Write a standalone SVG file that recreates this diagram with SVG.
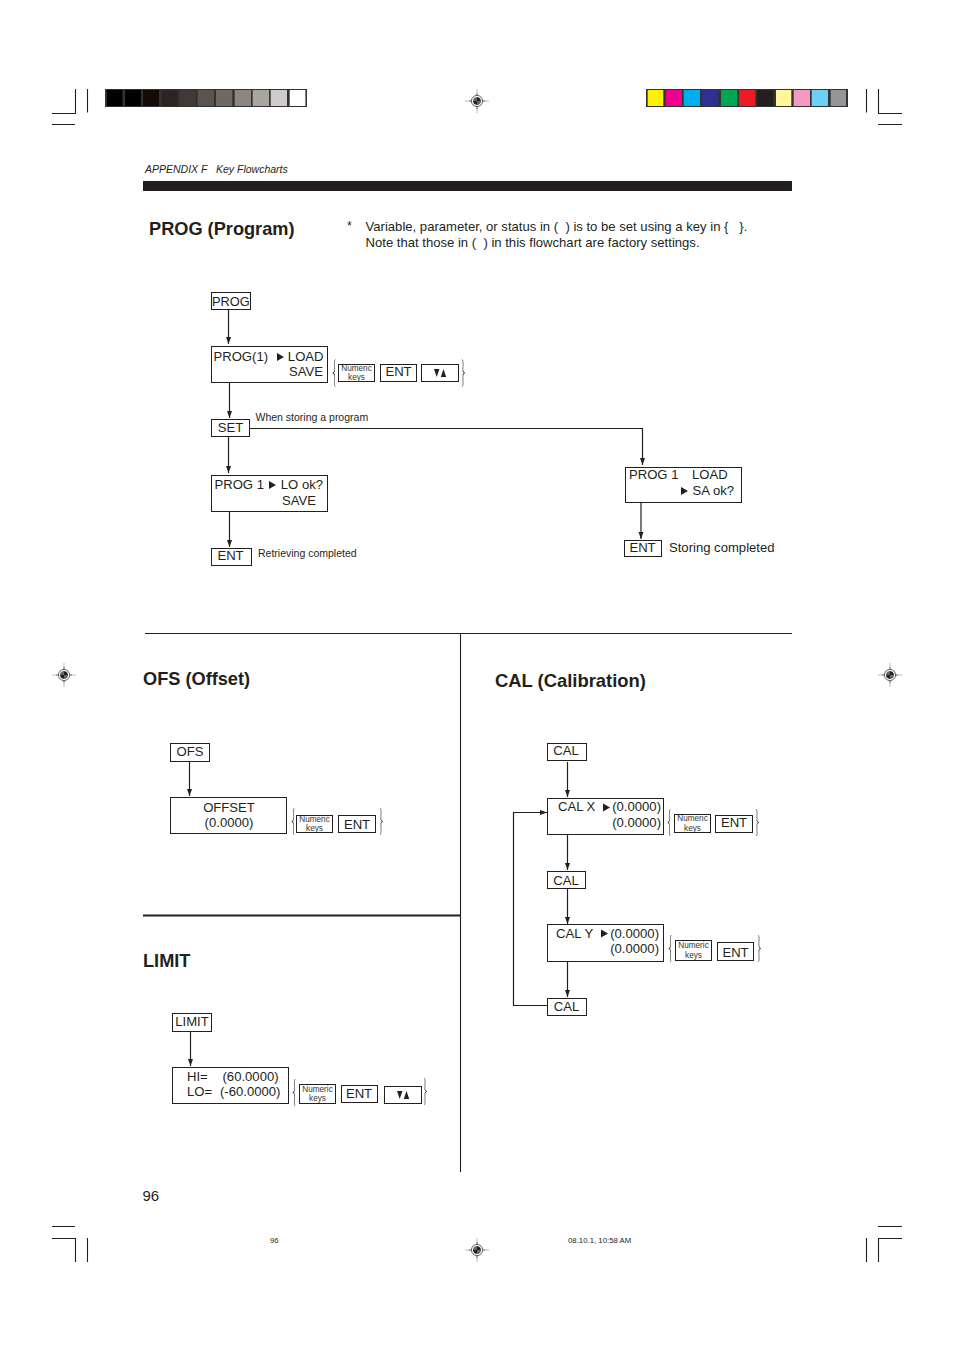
<svg xmlns="http://www.w3.org/2000/svg" xmlns:xlink="http://www.w3.org/1999/xlink" width="954" height="1351" viewBox="0 0 954 1351">
<style>
text{font-family:"Liberation Sans",Arial,sans-serif;fill:#231f20;font-size:13.100px;white-space:pre}
.h{font-weight:bold;font-size:18.2px}
.s{font-size:10.500px}
.k{font-size:8.200px;text-anchor:middle;fill:#333}
.m{text-anchor:middle}
.e{text-anchor:end}
.b{fill:#fff;stroke:#231f20;stroke-width:1}
.l{fill:none;stroke:#231f20;stroke-width:1.1}
.c{fill:none;stroke:#231f20;stroke-width:1.2}
.br{fill:none;stroke:#777;stroke-width:1}
.tip{fill:none;stroke:#333;stroke-width:1}
</style>
<defs>
<marker id="a" markerUnits="userSpaceOnUse" markerWidth="8" markerHeight="8" refX="7" refY="4" orient="auto"><path d="M0 1.500L7 4L0 6.500z" fill="#231f20"/></marker>
<g id="reg"><path d="M-12 0H12M0-12V12" stroke="#bbb" stroke-width="1" fill="none"/><path d="M-8 0H8M0-8V8" stroke="#444" stroke-width=".7" fill="none"/><circle r="5.600" fill="#fff" stroke="#555" stroke-width=".9"/><circle r="3.600" fill="#fff" stroke="#231f20" stroke-width=".7"/><path d="M0 0V-3.600A3.600 3.600 0 0 1 3.600 0ZM0 0V3.600A3.600 3.600 0 0 1 -3.600 0Z" fill="#231f20"/><path d="M0 0H-3.600A3.600 3.600 0 0 1 0-3.600Z M0 0H3.600A3.600 3.600 0 0 1 0 3.600Z" fill="#666"/></g>
<path id="tr" d="M0-4L7 0L0 4z" fill="#231f20"/>
<path id="ud" d="M0 0H5.400L2.700 8zM6.800 8L9.500 0L12.200 8z" fill="#231f20"/>
<g id="lb"><path d="M3.500 0C1.500 1 3 8 2.500 11.500M2.500 15.500C3 19 1.500 26 3.500 27" class="br"/><path d="M2.500 11.500Q2.500 13 .8 13.500Q2.500 14 2.500 15.500" class="tip"/></g>
<g id="rb"><path d="M0 0C2 1 .5 8 1 11.500M1 15.500C.5 19 2 26 0 27" class="br"/><path d="M1 11.500Q1 13 2.700 13.500Q1 14 1 15.500" class="tip"/></g>
</defs>

<g id="printmarks">
<rect x="105" y="89" width="202" height="18" fill="#333"/>
<rect x="107" y="90" width="15.500" height="16" fill="#000"/>
<rect x="125" y="90" width="16" height="16" fill="#000"/>
<rect x="143" y="90" width="16" height="16" fill="#140a06"/>
<rect x="161.700" y="90" width="16" height="16" fill="#2a2522"/>
<rect x="179.700" y="90" width="16" height="16" fill="#3f3a37"/>
<rect x="197.700" y="90" width="16.300" height="16" fill="#5a5350"/>
<rect x="216" y="90" width="16.300" height="16" fill="#6f6865"/>
<rect x="234.700" y="90" width="16.300" height="16" fill="#8c8683"/>
<rect x="252.700" y="90" width="16.300" height="16" fill="#a9a5a1"/>
<rect x="270.700" y="90" width="16.300" height="16" fill="#cfcbca"/>
<rect x="289.700" y="90" width="15.700" height="16" fill="#fff"/>
<rect x="646" y="89" width="202" height="18" fill="#333"/>
<rect x="647.700" y="90" width="15.600" height="16" fill="#fff200"/>
<rect x="665.700" y="90" width="16.300" height="16" fill="#ec008c"/>
<rect x="683.700" y="90" width="16.300" height="16" fill="#00aeef"/>
<rect x="702" y="90" width="16.300" height="16" fill="#2e3192"/>
<rect x="721" y="90" width="16.300" height="16" fill="#00a651"/>
<rect x="739" y="90" width="16.300" height="16" fill="#ed1c24"/>
<rect x="757" y="90" width="16.300" height="16" fill="#231f20"/>
<rect x="776" y="90" width="15.300" height="16" fill="#fff799"/>
<rect x="793.700" y="90" width="16.300" height="16" fill="#f49ac1"/>
<rect x="811.700" y="90" width="16.300" height="16" fill="#6dcff6"/>
<rect x="830.700" y="90" width="15.300" height="16" fill="#939598"/>
<path class="l" d="M52 113.500H75.500V89M87.500 89V112.500M52 124.500H75M866.500 89V112.500M878.500 89V113.500H902M878 124.500H902M52 1226.500H75M52 1238.500H75.500V1262M87.500 1238V1262M866.500 1238V1262M902 1238.500H878.500V1262M878 1226.500H902"/>
<use xlink:href="#reg" href="#reg" x="477" y="101"/>
<use xlink:href="#reg" href="#reg" x="64" y="675"/>
<use xlink:href="#reg" href="#reg" x="890" y="675"/>
<use xlink:href="#reg" href="#reg" x="477" y="1250"/>
</g>

<g id="page">
<text x="145" y="173" font-style="italic" style="font-size:10.500px">APPENDIX F   Key Flowcharts</text>
<rect x="143" y="181" width="649" height="10" fill="#231f20"/>
<text class="h" x="149" y="235">PROG (Program)</text>
<text x="347" y="230" style="font-size:12.500px">*</text>
<text x="365.500" y="231">Variable, parameter, or status in (  ) is to be set using a key in {   }.</text>
<text x="365.500" y="247">Note that those in (  ) in this flowchart are factory settings.</text>
<path class="l" d="M145 633.500H792M460.500 633V1172"/>
<path d="M143 915.500H460" stroke="#231f20" stroke-width="2" fill="none"/>
<text class="h" x="143" y="685">OFS (Offset)</text>
<text class="h" x="495" y="687" style="font-size:18.400px">CAL (Calibration)</text>
<text class="h" x="143" y="967">LIMIT</text>
<text x="142.500" y="1201" style="font-size:15px">96</text>
<text x="270" y="1243" style="font-size:7.500px">96</text>
<text x="568" y="1243" style="font-size:7.800px">08.10.1, 10:58 AM</text>
<text class="s" x="255.500" y="421">When storing a program</text>
<text class="s" x="258" y="557">Retrieving completed</text>
<text x="669" y="552">Storing completed</text>
</g>

<g id="connectors">
<path class="c" marker-end="url(#a)" d="M228.500 310V344"/>
<path class="c" marker-end="url(#a)" d="M229.500 383V418"/>
<path class="c" marker-end="url(#a)" d="M228.500 437V473"/>
<path class="c" marker-end="url(#a)" d="M229.500 512V547"/>
<path class="c" marker-end="url(#a)" d="M250 428.500H642.500V465"/>
<path class="c" marker-end="url(#a)" d="M641 503V539"/>
<path class="c" marker-end="url(#a)" d="M189.500 762V796"/>
<path class="c" marker-end="url(#a)" d="M190.500 1032V1066"/>
<path class="c" marker-end="url(#a)" d="M567.500 762V797"/>
<path class="c" marker-end="url(#a)" d="M567.500 835V870"/>
<path class="c" marker-end="url(#a)" d="M567.500 889V924"/>
<path class="c" marker-end="url(#a)" d="M567.500 962V997"/>
<path class="c" marker-end="url(#a)" d="M547 1005.500H513.500V812.500H547"/>
</g>

<g id="n-prog"><rect class="b" x="211.500" y="292.500" width="39" height="17"/><text x="212" y="305.500" style="font-size:12.800px">PROG</text></g>
<g id="n-prog1"><rect class="b" x="211.500" y="346.500" width="116" height="36"/><text x="213.500" y="361">PROG(1)</text><use xlink:href="#tr" href="#tr" x="277" y="357"/><text class="e" x="323.500" y="361">LOAD</text><text class="e" x="323" y="376">SAVE</text></g>
<g id="n-prog1-keys"><use xlink:href="#lb" href="#lb" x="332" y="359.500"/><rect class="b" x="338.500" y="364.500" width="36" height="17"/><text class="k" x="356.500" y="371">Numeric</text><text class="k" x="356.500" y="380">keys</text><rect class="b" x="380.500" y="364.500" width="36" height="17"/><text class="m" x="398.500" y="376">ENT</text><rect class="b" x="421.500" y="364.500" width="37" height="17"/><use xlink:href="#ud" href="#ud" x="434" y="369"/><use xlink:href="#rb" href="#rb" x="462" y="359.500"/></g>
<g id="n-set"><rect class="b" x="211.500" y="419.500" width="38" height="17"/><text class="m" x="230.500" y="432">SET</text></g>
<g id="n-lo"><rect class="b" x="211.500" y="475.500" width="116" height="36"/><text x="214.500" y="489">PROG 1</text><use xlink:href="#tr" href="#tr" x="269" y="485"/><text class="e" x="323" y="489">LO ok?</text><text class="e" x="316" y="505">SAVE</text></g>
<g id="n-ent1"><rect class="b" x="211.500" y="548.500" width="40" height="17"/><text class="m" x="230.500" y="560">ENT</text></g>
<g id="n-sa"><rect class="b" x="625.500" y="467.500" width="116" height="35"/><text x="629" y="479">PROG 1</text><text x="692" y="479">LOAD</text><use xlink:href="#tr" href="#tr" x="681" y="491"/><text class="e" x="734" y="495">SA ok?</text></g>
<g id="n-ent2"><rect class="b" x="624.500" y="540.500" width="37" height="16"/><text class="m" x="642.500" y="552">ENT</text></g>

<g id="n-ofs"><rect class="b" x="170.500" y="743.500" width="39" height="18"/><text class="m" x="190" y="756">OFS</text></g>
<g id="n-offset"><rect class="b" x="170.500" y="797.500" width="116" height="36"/><text class="m" x="229" y="812">OFFSET</text><text class="m" x="229" y="827">(0.0000)</text></g>
<g id="n-ofs-keys"><use xlink:href="#lb" href="#lb" x="291" y="808"/><rect class="b" x="296.500" y="815.500" width="36" height="17"/><text class="k" x="314.500" y="822">Numeric</text><text class="k" x="314.500" y="831">keys</text><rect class="b" x="338.500" y="815.500" width="37" height="17"/><text class="m" x="357" y="829">ENT</text><use xlink:href="#rb" href="#rb" x="380" y="808"/></g>

<g id="n-limit"><rect class="b" x="172.500" y="1013.500" width="39" height="18"/><text class="m" x="192" y="1026">LIMIT</text></g>
<g id="n-hilo"><rect class="b" x="172.500" y="1067.500" width="116" height="36"/><text x="187" y="1081">HI=</text><text x="222.500" y="1081">(60.0000)</text><text x="187" y="1096">LO=</text><text x="220" y="1096">(-60.0000)</text></g>
<g id="n-limit-keys"><use xlink:href="#lb" href="#lb" x="292" y="1079"/><rect class="b" x="299.500" y="1084.500" width="36" height="19"/><text class="k" x="317.500" y="1092">Numeric</text><text class="k" x="317.500" y="1101">keys</text><rect class="b" x="341.500" y="1085.500" width="36" height="17"/><text class="m" x="359" y="1098">ENT</text><rect class="b" x="384.500" y="1086.500" width="37" height="17"/><use xlink:href="#ud" href="#ud" x="397" y="1091"/><use xlink:href="#rb" href="#rb" x="424" y="1078"/></g>

<g id="n-cal1"><rect class="b" x="547.500" y="743.500" width="39" height="17"/><text class="m" x="566" y="755">CAL</text></g>
<g id="n-calx"><rect class="b" x="547.500" y="798.500" width="116" height="36"/><text x="558" y="811">CAL X</text><use xlink:href="#tr" href="#tr" x="603" y="807.500"/><text class="e" x="661" y="811">(0.0000)</text><text class="e" x="661" y="827">(0.0000)</text></g>
<g id="n-calx-keys"><use xlink:href="#lb" href="#lb" x="667" y="809"/><rect class="b" x="674.500" y="814.500" width="36" height="18"/><text class="k" x="692.500" y="821">Numeric</text><text class="k" x="692.500" y="830.500">keys</text><rect class="b" x="715.500" y="815.500" width="37" height="17"/><text class="m" x="734" y="827">ENT</text><use xlink:href="#rb" href="#rb" x="756" y="809"/></g>
<g id="n-cal2"><rect class="b" x="547.500" y="871.500" width="38" height="17"/><text class="m" x="566" y="885">CAL</text></g>
<g id="n-caly"><rect class="b" x="547.500" y="924.500" width="116" height="37"/><text x="556" y="938">CAL Y</text><use xlink:href="#tr" href="#tr" x="601" y="933.500"/><text class="e" x="659" y="938">(0.0000)</text><text class="e" x="659" y="953">(0.0000)</text></g>
<g id="n-caly-keys"><use xlink:href="#lb" href="#lb" x="668" y="935"/><rect class="b" x="675.500" y="940.500" width="36" height="20"/><text class="k" x="693.500" y="948">Numeric</text><text class="k" x="693.500" y="957.500">keys</text><rect class="b" x="717.500" y="942.500" width="36" height="18"/><text class="m" x="735.500" y="957">ENT</text><use xlink:href="#rb" href="#rb" x="758" y="935"/></g>
<g id="n-cal3"><rect class="b" x="547.500" y="998.500" width="39" height="17"/><text class="m" x="566.500" y="1011">CAL</text></g>
</svg>
